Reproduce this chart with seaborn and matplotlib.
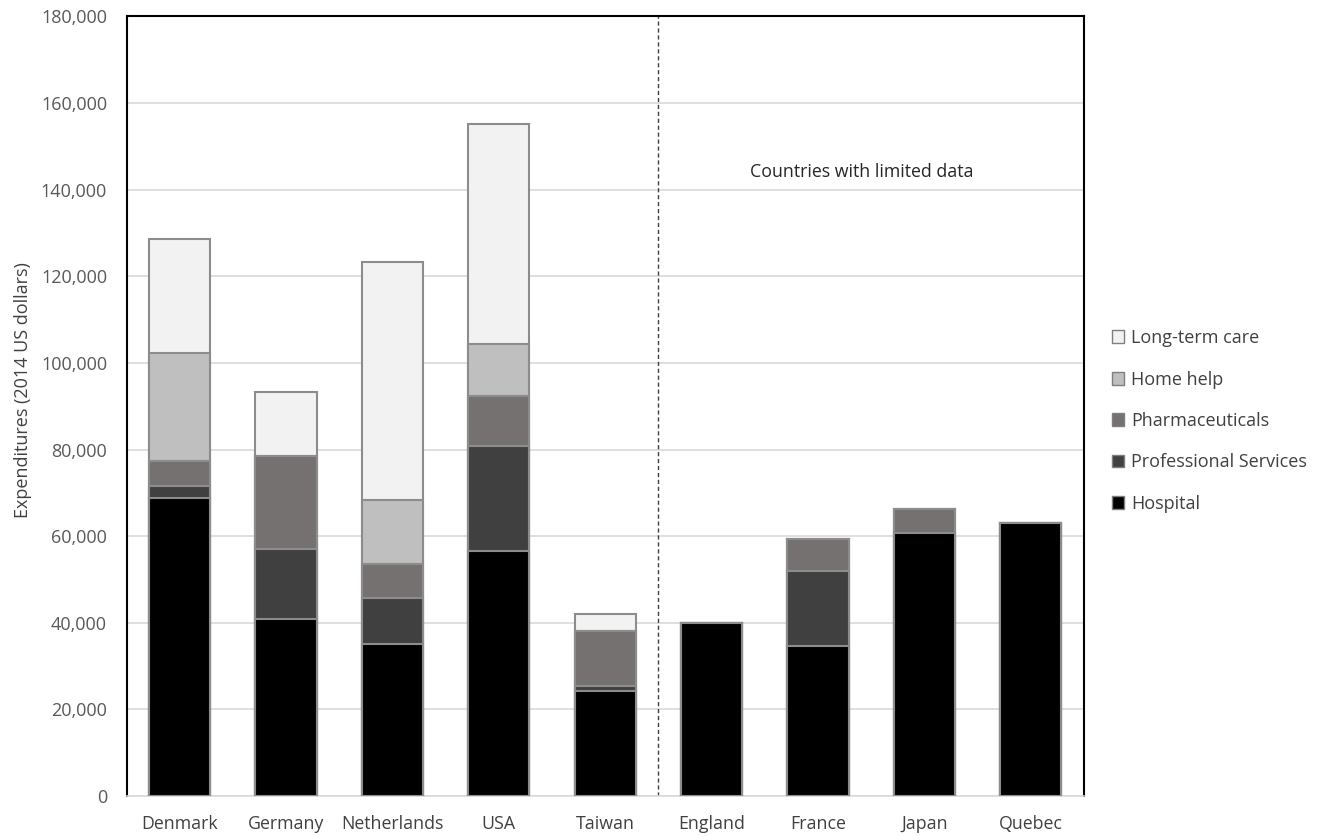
import numpy as np
import pandas as pd
import matplotlib
matplotlib.use("Agg")
import matplotlib.pyplot as plt
import matplotlib.patches as mpatches
from matplotlib.ticker import FuncFormatter
import seaborn as sns

countries = ["Denmark", "Germany", "Netherlands", "USA", "Taiwan",
             "England", "France", "Japan", "Quebec"]

hospital = [68900, 40900, 35100, 56500, 24200, 40000, 34700, 60800, 63000]
professional = [2800, 16100, 10700, 24300, 1300, 0, 17200, 0, 0]
pharmaceuticals = [5700, 21400, 7700, 11500, 12500, 0, 7500, 5500, 0]
home_help = [24900, 0, 14900, 12000, 0, 0, 0, 0, 0]
long_term_care = [26400, 15000, 54800, 50900, 4000, 0, 0, 0, 0]

series_names = ["Hospital", "Professional Services", "Pharmaceuticals",
                "Home help", "Long-term care"]
series_colors = ["#000000", "#404040", "#767171", "#bfbfbf", "#f2f2f2"]

df = pd.DataFrame({
    "country": countries,
    "Hospital": hospital,
    "Professional Services": professional,
    "Pharmaceuticals": pharmaceuticals,
    "Home help": home_help,
    "Long-term care": long_term_care,
})

sns.set_style("white")
plt.rcParams["font.family"] = ["Open Sans", "DejaVu Sans"]

fig = plt.figure(figsize=(13.26, 8.36), dpi=100)
ax = fig.add_axes([0.0954, 0.0478, 0.7221, 0.9325])

# stacked bars: draw cumulative totals from the top layer down
cum = df[series_names].cumsum(axis=1)
for name, color in reversed(list(zip(series_names, series_colors))):
    sns.barplot(x=df["country"], y=cum[name], color=color, width=0.575,
                edgecolor="#8c8c8c", linewidth=1.5, saturation=1, ax=ax,
                zorder=3)

ax.set_xlim(-0.5, len(countries) - 0.5)
ax.set_ylim(0, 180000)
ax.set_yticks(np.arange(0, 180001, 20000))
ax.yaxis.set_major_formatter(FuncFormatter(lambda v, p: f"{int(v):,}"))
ax.yaxis.grid(True, color="#d9d9d9", linewidth=1.2, zorder=0)
ax.set_axisbelow(True)
ax.tick_params(axis="both", length=0, colors="#595959")
ax.tick_params(axis="y", pad=14, labelsize=13)
ax.tick_params(axis="x", pad=14, labelsize=12.8, labelcolor="#404040")
ax.set_xlabel("")
ax.set_ylabel("Expenditures (2014 US dollars)", fontsize=13, color="#404040")
ax.yaxis.set_label_coords(-0.099, 0.521)

for side in ["left", "top", "right"]:
    ax.spines[side].set_color("black")
    ax.spines[side].set_linewidth(1.5)
ax.spines["bottom"].set_color("#d9d9d9")
ax.spines["bottom"].set_linewidth(1.2)

ax.axvline(4.5, color="#404040", linestyle=(0, (3, 2)), linewidth=1, zorder=2)
ax.text(6.41, 144000, "Countries with limited data", ha="center",
        va="center", fontsize=12.8, color="#262626")

handles = [mpatches.Patch(facecolor=c, edgecolor="#7f7f7f", label=n)
           for n, c in zip(series_names, series_colors)][::-1]
fig.legend(handles=handles, loc="center left", bbox_to_anchor=(0.826, 0.4964),
           frameon=False, fontsize=13, handlelength=0.7, handleheight=0.7,
           handletextpad=0.4, labelspacing=1.3, labelcolor="#404040")

fig.savefig("out.png", dpi=100)
